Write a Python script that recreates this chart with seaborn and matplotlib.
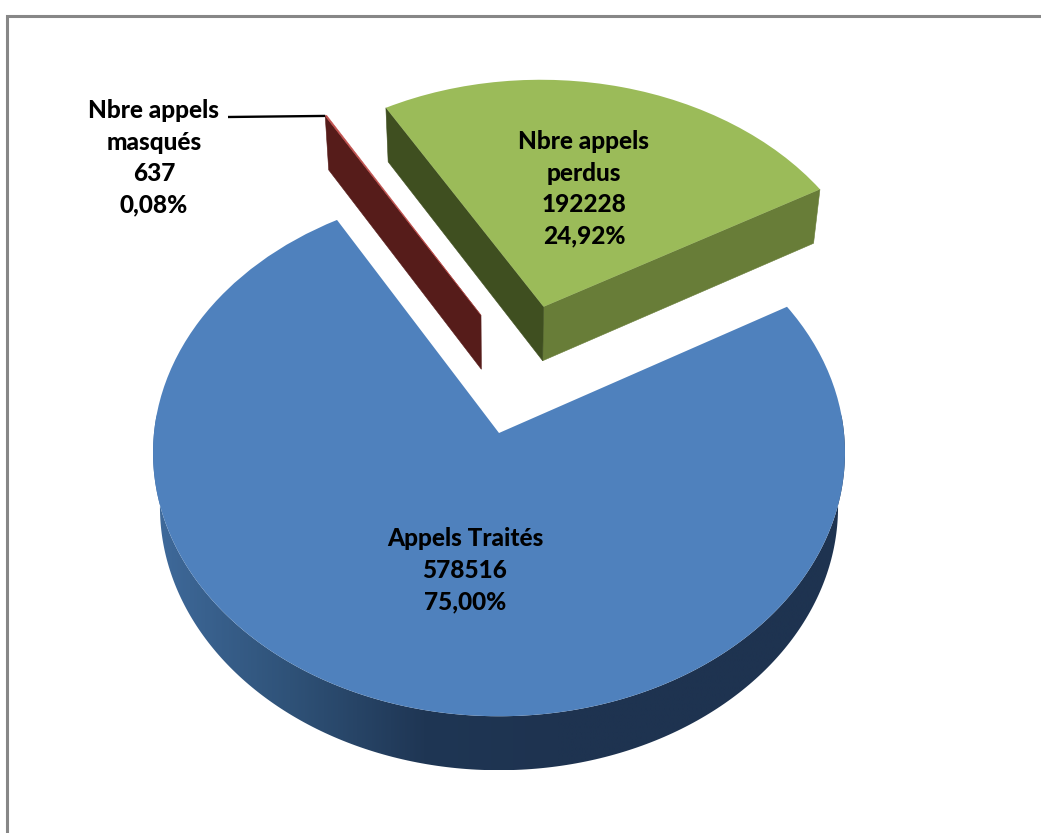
import numpy as np
import matplotlib
matplotlib.use("Agg")
import matplotlib.pyplot as plt
import matplotlib.transforms as mtransforms
from matplotlib.colors import LinearSegmentedColormap
from matplotlib.patches import Polygon
import seaborn as sns

# Call-centre figures
names = ["Appels Traités", "Nbre appels\nperdus", "Nbre appels\nmasqués"]
calls = [578516, 192228, 637]

# Colours of the top faces and side walls
top_colours = ["#4f81bd", "#9bbb59", "#c0504d"]
green_wall_left = "#3f4f20"
green_wall_right = "#687d38"
red_wall = "#561c1a"
blue_wall_shades = ["#3f6a9b", "#2f5278", "#1f3654", "#1e3350"]
frame_grey = "#878787"

# Shape of the tilted disc, in pixels around the slice apex
APEX_X, APEX_Y = 499, 433
SEMI_X, SEMI_Y = 345, 262
TILT = 0.075
WALL_DROP = 54
WALL_SHRINK = 0.98

# Where each slice's apex sits on the disc plane
slice_centres = [(0.0, 0.0), (0.134, 0.50), (-0.054, 0.465)]

sns.set_theme(style="white")
plt.rcParams["font.family"] = ["Lato", "DejaVu Sans"]


class TiltedDisc(mtransforms.Transform):
    """Perspective view of the pie plane: far parts look smaller."""
    input_dims = output_dims = 2
    is_separable = False
    has_inverse = False

    def transform_non_affine(self, values):
        pts = np.asarray(values, dtype=float)
        w = 1 + TILT * pts[:, 1]
        return np.column_stack((SEMI_X * pts[:, 0] / w, SEMI_Y * pts[:, 1] / w))


def px(x, y):
    """Image-style coordinates to axes data coordinates."""
    return x - APEX_X, APEX_Y - y


disc = TiltedDisc()


def rim(wedge, degrees):
    t = np.radians(degrees)
    cx, cy = wedge.center
    pts = np.column_stack((cx + wedge.r * np.cos(t), cy + wedge.r * np.sin(t)))
    return disc.transform_non_affine(pts)


def apex(wedge):
    return disc.transform_non_affine(np.array([wedge.center], dtype=float))


def lowered(pts):
    return np.column_stack((pts[:, 0] * WALL_SHRINK, pts[:, 1] - WALL_DROP))


def radial_wall(wedge, degree, colour):
    edge = np.vstack((apex(wedge), rim(wedge, [degree])))
    quad = np.vstack((edge, lowered(edge)[::-1]))
    ax.fill(quad[:, 0], quad[:, 1], color=colour, lw=0.4, zorder=2)


fig = plt.figure(figsize=(10.41, 8.33), dpi=100, facecolor="white")
ax = fig.add_axes([0, 0, 1, 1])

wedges, _ = ax.pie(calls, colors=top_colours, startangle=120, radius=1,
                   wedgeprops={"linewidth": 0})
for wedge, centre in zip(wedges, slice_centres):
    wedge.set_center(centre)
    wedge.set_transform(disc + ax.transData)
    wedge.set_zorder(3)

blue, green, red = wedges
red.set_edgecolor(top_colours[2])
red.set_linewidth(0.35)

# Outer wall of the large slice: a horizontal gradient clipped to the wall shape
wall_angles = np.linspace(176, 364, 240)
upper = rim(blue, wall_angles)
lower = lowered(upper)
outline = Polygon(np.vstack((upper, lower[::-1])), closed=True,
                  transform=ax.transData, facecolor="none", edgecolor="none")
ax.add_patch(outline)
shade = LinearSegmentedColormap.from_list("blue_wall", blue_wall_shades)
ramp_x = np.linspace(-SEMI_X - 2, SEMI_X + 2, 512)
ramp = np.clip((ramp_x + SEMI_X) / (SEMI_X + 60), 0, 1).reshape(1, -1)
wall_image = ax.imshow(ramp, cmap=shade, vmin=0, vmax=1, aspect="auto", zorder=2,
                       interpolation="bilinear",
                       extent=(ramp_x[0], ramp_x[-1], lower[:, 1].min(), upper[:, 1].max()))
wall_image.set_clip_path(outline)

# Cut faces of the two pulled-out slices
radial_wall(green, green.theta1, green_wall_right)
radial_wall(green, green.theta2, green_wall_left)
radial_wall(red, red.theta2, red_wall)

# Axis range set last so the gradient image does not alter it
ax.set_aspect("auto")
ax.set_xlim(px(0, 0)[0], px(1041, 0)[0])
ax.set_ylim(px(0, 833)[1], px(0, 0)[1])
ax.axis("off")

# Value labels
total = sum(calls)
label_anchor = [(465, 570), (584, 189), (154, 158)]
for name, n, (lx, ly) in zip(names, calls, label_anchor):
    share = f"{100 * n / total:.2f}".replace(".", ",")
    sx, sy = px(lx, ly)
    ax.text(sx, sy, f"{name}\n{n}\n{share}%", ha="center", va="center",
            multialignment="center", fontsize=17.6, fontweight=900,
            color="black", linespacing=1.45, zorder=5)

# Leader from the label to the thin slice
tip = rim(red, [red.theta2])[0]
start = px(228, 117)
ax.plot([start[0], tip[0]], [start[1], tip[1]], color="black", lw=1.7,
        solid_capstyle="butt", zorder=4)

# Frame running off the top-right of the sheet
fx0, fy0 = px(7, 16)
fx1, fy1 = px(1041, 833)
ax.plot([fx0, fx0, fx1], [fy1, fy0, fy0], color=frame_grey, lw=2.2,
        solid_joinstyle="miter", zorder=1, clip_on=True)

fig.savefig("out.png", dpi=100, facecolor="white")
